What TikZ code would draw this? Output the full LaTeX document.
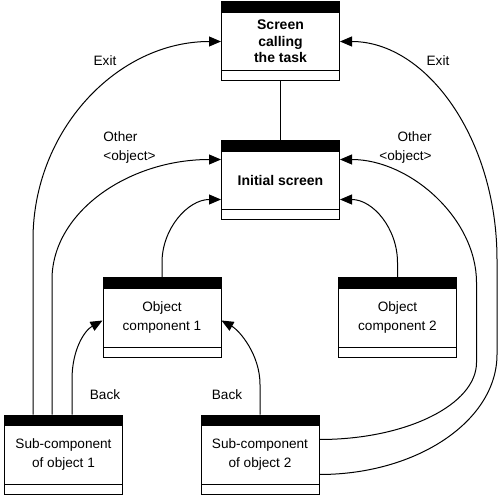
\documentclass[tikz,border=0pt]{standalone}
\usepackage{fontspec}
\setmainfont{Liberation Sans}
\usetikzlibrary{calc,arrows.meta}
\tikzset{
  box/.style={draw, line width=0.5pt, rectangle, minimum width=59pt, minimum height=39.5pt,
    inner sep=0pt, align=center, font=\fontsize{6.8}{9.5}\selectfont,
    path picture={
      \fill (path picture bounding box.north west) rectangle ([yshift=-5.5pt]path picture bounding box.north east);
      \draw[line width=0.5pt] ([yshift=5pt]path picture bounding box.south west) -- ([yshift=5pt]path picture bounding box.south east);
    }},
  boldbox/.style={box, font=\fontsize{7}{8.3}\selectfont\bfseries},
  lbl/.style={inner sep=0pt, font=\fontsize{6.8}{9.5}\selectfont},
  arr/.style={line width=0.5pt, -{Triangle[length=6pt,width=5pt]}},
  conn/.style={line width=0.5pt}
}
\begin{document}
\begin{tikzpicture}[x=0.5pt,y=-0.5pt]
\useasboundingbox (0,0) rectangle (498,497);
\node[boldbox] (top) at (280.5,41.5) {Screen\\calling\\the task};
\node[boldbox] (init) at (280.5,180.5) {Initial screen};
\node[box] (oc1) at (162,317.5) {Object\\component 1};
\node[box] (oc2) at (397.5,317.5) {Object\\component 2};
\node[box] (sub1) at (63.5,454.5) {Sub-component\\of object 1};
\node[box] (sub2) at (260,454.5) {Sub-component\\of object 2};

\draw[conn] (top.south) -- (init.north);

% left exit
\draw[arr] ($(sub1.north)+(-30.5,0)$) -- ++(0,-175) .. controls +(0,-109) and +(-104,0) .. (top.west);
% left other object
\draw[arr] ($(sub1.north)+(-11.5,0)$) -- ++(0,-135) .. controls +(0,-67) and +(-93,0) .. ($(init.west)+(0,-21)$);
% back left
\draw[arr] ($(sub1.north)+(8.5,0)$) -- ++(0,-35) .. controls +(0,-30) and +(-18,10) .. ($(oc1.west)+(0,3)$);
% back right
\draw[arr] (sub2.north) -- ++(0,-30) .. controls +(0,-30) and +(18,10) .. ($(oc1.east)+(0,3)$);
% object components to initial
\draw[arr] (oc1.north) -- ++(0,-15) .. controls +(0,-34) and +(-33,0) .. ($(init.west)+(0,19)$);
\draw[arr] (oc2.north) -- ++(0,-15) .. controls +(0,-34) and +(33,0) .. ($(init.east)+(0,19)$);
% right other object
\draw[arr] ($(sub2.east)+(0,-15)$) .. controls +(87,0) and +(0,42) .. ++(157,-77) -- ++(0,-80) .. controls +(0,-64) and +(70,0) .. ($(init.east)+(0,-21)$);
% right exit
\draw[arr] ($(sub2.east)+(0,20)$) .. controls +(98,0) and +(0,66) .. ++(177.5,-120) -- ++(0,-95) .. controls +(0,-120) and +(87,0) .. (top.east);

\node[lbl] (exitL) at (105,61) {Exit};
\node[lbl, anchor=west, align=left] (otherL) at (103,147.5) {Other\\<object>};
\node[lbl] (exitR) at (438,61) {Exit};
\node[lbl, anchor=east, align=right] (otherR) at (432,147.5) {Other\\<object>};
\node[lbl] (backL) at (105,395) {Back};
\node[lbl] (backR) at (227,395) {Back};
\end{tikzpicture}
\end{document}
